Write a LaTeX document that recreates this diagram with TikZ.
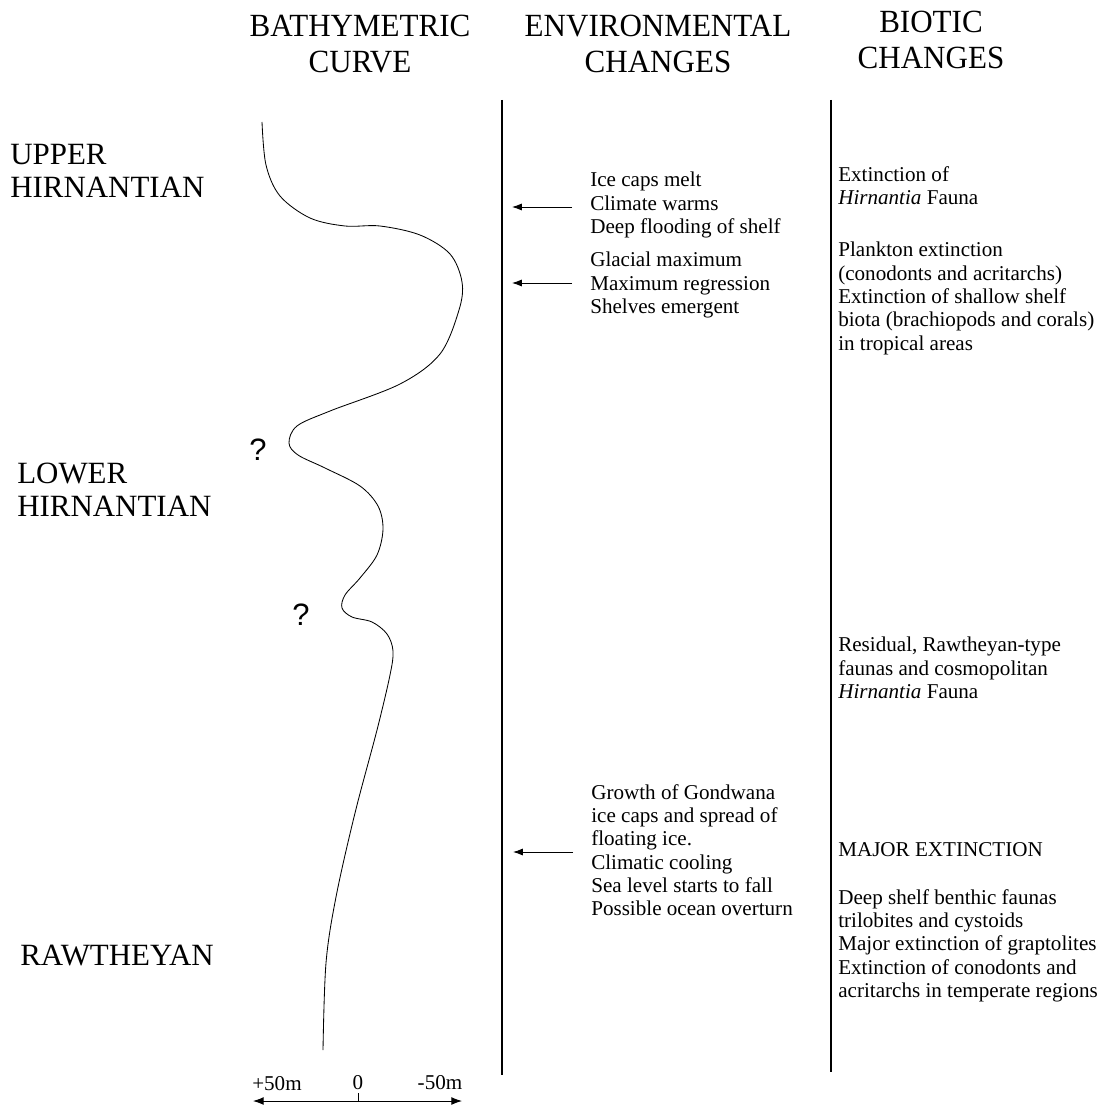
\documentclass[tikz,border=0pt]{standalone}
\usepackage{fontspec}
\setmainfont{Liberation Serif}
\newfontfamily\qfont{Liberation Sans}
\newfontfamily\headfont[FakeStretch=0.96]{Liberation Serif}
\usetikzlibrary{arrows.meta}
\tikzset{
	head/.style={align=center,inner sep=0pt,font=\headfont\fontsize{23}{26}\selectfont},
	stage/.style={anchor=north west,align=left,inner sep=0pt,font=\fontsize{22}{23.5}\selectfont},
	note/.style={anchor=north west,align=left,inner sep=0pt,font=\fontsize{15}{16.6}\selectfont},
	qmark/.style={inner sep=0pt,font=\qfont\fontsize{22}{22}\selectfont},
	scalelab/.style={inner sep=0pt,font=\fontsize{15}{16}\selectfont},
	pointer/.style={-{Latex[length=7pt,width=5pt]},line width=0.6pt}
}
\begin{document}
\begin{tikzpicture}[x=0.025cm,y=-0.025cm]
	\useasboundingbox (0,0) rectangle (1107,1109);

	% column heads
	\node [head] (hbath) at (360,44) {BATHYMETRIC\\CURVE};
	\node [head] (henv) at (658,44) {ENVIRONMENTAL\\CHANGES};
	\node [head] (hbio) at (931,40) {BIOTIC\\CHANGES};

	% stages
	\node [stage] (upper) at (10,144) {UPPER\\HIRNANTIAN};
	\node [stage] (lower) at (17,463) {LOWER\\HIRNANTIAN};
	\node [stage] (rawth) at (20,945) {RAWTHEYAN};

	% column rules
	\coordinate (envtop) at (502,100);
	\coordinate (envbot) at (502,1075);
	\coordinate (biotop) at (831,100);
	\coordinate (biobot) at (831,1072);
	\draw [line width=0.8pt] (envtop) -- (envbot);
	\draw [line width=0.8pt] (biotop) -- (biobot);

	% bathymetric curve
	\draw [line width=0.6pt] plot [smooth,tension=0.55] coordinates {
		(262,122) (266,165) (280,196) (310,218) (345,226) (380,226) (420,235)
		(450,254) (462,282) (459,310) (440,354) (400,384) (330,411) (297,426)
		(289,443) (298,455) (325,468) (360,486) (378,506) (383,529) (377,555)
		(360,578) (345,595) (342,608) (352,617) (372,622) (387,634) (393,651)
		(390,675) (377,730) (355,813) (336,897) (326,963) (323,1050)};
	\node [qmark] (q1) at (258,450) {?};
	\node [qmark] (q2) at (301,615) {?};

	% depth scale
	\coordinate (axl) at (253,1101);
	\coordinate (axr) at (462,1101);
	\coordinate (ax0) at (358,1101);
	\coordinate (ax0t) at (358,1093);
	\draw [{Latex[length=7.5pt,width=5.5pt]}-{Latex[length=7.5pt,width=5.5pt]},line width=0.6pt] (axl) -- (axr);
	\draw [line width=0.6pt] (ax0) -- (ax0t);
	\node [scalelab] (lplus) at (277,1084) {+50m};
	\node [scalelab] (lzero) at (358,1083) {0};
	\node [scalelab] (lminus) at (440,1083) {-50m};

	% environmental changes
	\node [note] (env1) at (590,172) {Ice caps melt\\Climate warms\\Deep flooding of shelf};
	\node [note] (env2) at (590,252) {Glacial maximum\\Maximum regression\\Shelves emergent};
	\node [note] (env3) at (591,784) {Growth of Gondwana\\ice caps and spread of\\floating ice.\\Climatic cooling\\Sea level starts to fall\\Possible ocean overturn};
	\coordinate (a1) at (572,207);
	\coordinate (b1) at (512,207);
	\coordinate (a2) at (572,283);
	\coordinate (b2) at (512,283);
	\coordinate (a3) at (573,852);
	\coordinate (b3) at (513,852);
	\draw [pointer] (a1) -- (b1);
	\draw [pointer] (a2) -- (b2);
	\draw [pointer] (a3) -- (b3);

	% biotic changes
	\node [note] (bio1) at (838,166) {Extinction of\\\textit{Hirnantia} Fauna};
	\node [note] (bio2) at (838,242) {Plankton extinction\\(conodonts and acritarchs)\\Extinction of shallow shelf\\biota (brachiopods and corals)\\in tropical areas};
	\node [note] (bio3) at (838,637) {Residual, Rawtheyan-type\\faunas and cosmopolitan\\\textit{Hirnantia} Fauna};
	\node [note] (bio4) at (838,842) {MAJOR EXTINCTION};
	\node [note] (bio5) at (838,889) {Deep shelf benthic faunas\\trilobites and cystoids\\Major extinction of graptolites\\Extinction of conodonts and\\acritarchs in temperate regions};
\end{tikzpicture}
\end{document}
